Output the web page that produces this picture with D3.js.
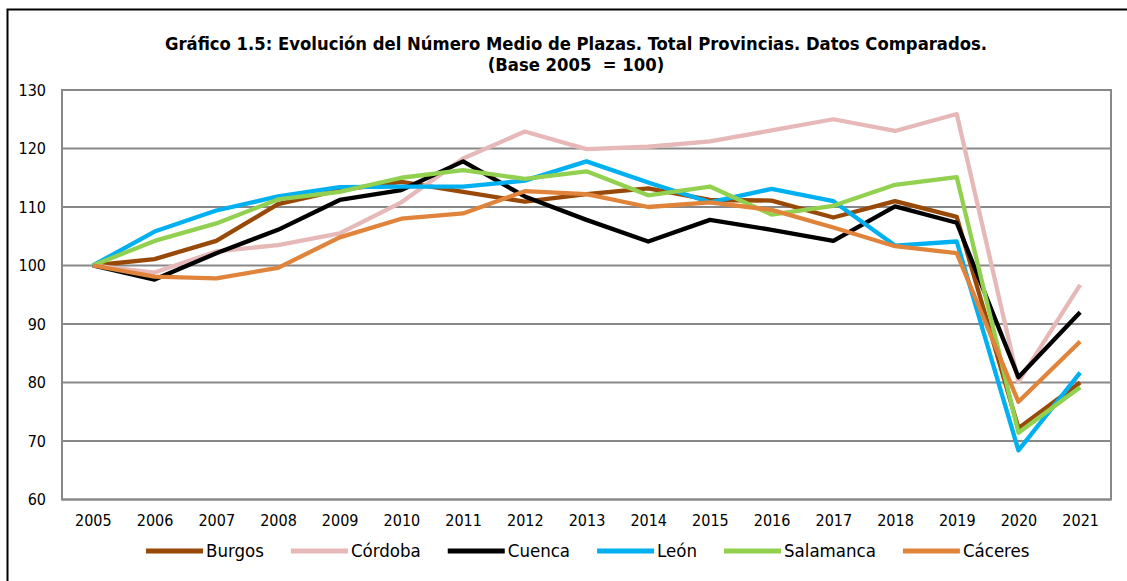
<!DOCTYPE html>
<html>
<head>
<meta charset="utf-8">
<script src="https://cdn.jsdelivr.net/npm/d3@7"></script>
<style>
  body { margin: 0; background: #fff; }
  svg { display: block; }
</style>
</head>
<body>
<div id="chart"></div>
<script>
// datos
var years = ["2005","2006","2007","2008","2009","2010","2011","2012","2013","2014","2015","2016","2017","2018","2019","2020","2021"];
var yTicks = [60, 70, 80, 90, 100, 110, 120, 130];

var burgos    = [100, 101.1, 104.2, 110.5, 112.9, 114.3, 112.6, 110.9, 112.2, 113.2, 111.2, 111.1, 108.2, 111.0, 108.3, 72.2, 80.0];
var cordoba   = [100, 98.8, 102.4, 103.5, 105.5, 110.8, 118.3, 122.9, 119.9, 120.3, 121.2, 123.1, 125.0, 123.0, 125.9, 80.1, 96.7];
var cuenca    = [100, 97.6, 102.1, 106.1, 111.2, 112.9, 117.8, 111.8, 107.8, 104.1, 107.8, 106.1, 104.2, 110.1, 107.3, 80.9, 92.0];
var leon      = [100, 105.8, 109.4, 111.8, 113.4, 113.5, 113.5, 114.5, 117.8, 114.2, 110.8, 113.1, 111.0, 103.4, 104.1, 68.4, 81.7];
var salamanca = [100, 104.2, 107.2, 111.3, 112.6, 115.0, 116.3, 114.8, 116.1, 112.0, 113.5, 108.7, 110.2, 113.8, 115.1, 71.4, 79.2];
var caceres   = [100, 98.1, 97.8, 99.6, 104.8, 108.0, 108.9, 112.7, 112.2, 110.0, 110.8, 109.5, 106.5, 103.3, 102.1, 76.7, 87.0];

var names  = ["Burgos", "Córdoba", "Cuenca", "León", "Salamanca", "Cáceres"];
var colors = ["#984807", "#E6B9B8", "#000000", "#00B0F0", "#92D050", "#E0843C"];
var series = [burgos, cordoba, cuenca, leon, salamanca, caceres];

var width = 1127, height = 581;
var plot = { left: 62, right: 1111, top: 90, bottom: 499.5 };

var svg = d3.select("#chart").append("svg")
  .attr("width", width)
  .attr("height", height);

// marco exterior
svg.append("rect")
  .attr("x", 7.5).attr("y", 9.5)
  .attr("width", 1140).attr("height", 600)
  .attr("fill", "none").attr("stroke", "#000").attr("stroke-width", 2);

// titulo
var title = svg.append("text")
  .attr("x", 576).attr("text-anchor", "middle")
  .style("font-family", "'DejaVu Sans Condensed', 'DejaVu Sans', sans-serif")
  .style("font-weight", "bold")
  .style("font-size", "18.3px")
  .attr("fill", "#000");
title.append("tspan").attr("x", 576).attr("y", 50)
  .text("Gráfico 1.5: Evolución del Número Medio de Plazas. Total Provincias. Datos Comparados.");
title.append("tspan").attr("x", 576).attr("y", 71)
  .attr("xml:space", "preserve")
  .style("white-space", "pre")
  .text("(Base 2005  = 100)");

var x = d3.scalePoint()
  .domain(years)
  .range([plot.left, plot.right])
  .padding(0.5);

var y = d3.scaleLinear()
  .domain([60, 130])
  .range([plot.bottom, plot.top]);

// lineas de cuadricula
svg.append("g").selectAll("line")
  .data(yTicks)
  .enter().append("line")
  .attr("x1", plot.left).attr("x2", plot.right)
  .attr("y1", function (d) { return y(d); })
  .attr("y2", function (d) { return y(d); })
  .attr("stroke", "#888888").attr("stroke-width", 2);

svg.append("rect")
  .attr("x", plot.left).attr("y", plot.top)
  .attr("width", plot.right - plot.left).attr("height", plot.bottom - plot.top)
  .attr("fill", "none").attr("stroke", "#888888").attr("stroke-width", 2);

var tickFont = "'Liberation Sans Narrow', 'DejaVu Sans Condensed', 'Liberation Sans', sans-serif";

// eje y
var gy = svg.append("g")
  .attr("transform", "translate(" + (plot.left - 16) + ",0)")
  .call(d3.axisLeft(y).tickValues(yTicks).tickSize(0).tickPadding(0));
gy.select(".domain").remove();
gy.selectAll("text")
  .style("font-family", tickFont).style("font-size", "16px").attr("fill", "#000");

// eje x
var gx = svg.append("g")
  .attr("transform", "translate(0," + (plot.bottom + 15) + ")")
  .call(d3.axisBottom(x).tickSize(0).tickPadding(0));
gx.select(".domain").remove();
gx.selectAll("text")
  .style("font-family", tickFont).style("font-size", "16px").attr("fill", "#000");

// series
var line = d3.line()
  .x(function (d, i) { return x(years[i]); })
  .y(function (d) { return y(d); });

series.forEach(function (s, k) {
  svg.append("path")
    .datum(s)
    .attr("d", line)
    .attr("fill", "none")
    .attr("stroke", colors[k])
    .attr("stroke-width", 4.3)
    .attr("stroke-linejoin", "round");
});

// leyenda
var legend = svg.append("g");
var lx = 146, ly = 551;
names.forEach(function (n, k) {
  var item = legend.append("g").attr("transform", "translate(" + lx + "," + ly + ")");
  item.append("line")
    .attr("x1", 0).attr("x2", 57).attr("y1", 0).attr("y2", 0)
    .attr("stroke", colors[k]).attr("stroke-width", 5);
  var t = item.append("text")
    .attr("x", 60).attr("y", 6)
    .style("font-family", tickFont).style("font-size", "18.5px")
    .attr("fill", "#000")
    .text(n);
  lx += 60 + t.node().getComputedTextLength() + 27;
});
</script>
</body>
</html>
